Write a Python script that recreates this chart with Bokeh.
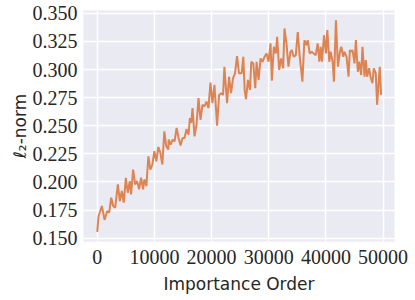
from bokeh.plotting import figure
from bokeh.models import Range1d, FixedTicker, NumeralTickFormatter
from bokeh.embed import file_html
from bokeh.resources import INLINE

# Data
order = [0, 238, 819, 1284, 1748, 2096, 2445, 2793, 3141, 3606, 3954, 4303, 4651, 5000,
         5348, 5696, 5929, 6277, 6625, 6974, 7322, 7670, 8019, 8251, 8600, 8948, 9297,
         9645, 9993, 10342, 10690, 11039, 11387, 11736, 12084, 12432,
         12490, 12838, 13187, 13535, 13884, 14232, 14580, 14929, 15277, 15626, 15974,
         16206, 16439, 16671, 17019, 17368, 17716, 18065, 18413, 18761, 19110, 19458,
         19807, 20155, 20503, 20968, 21316, 21665, 22013, 22245, 22710, 23058, 23407,
         23755, 24104, 24452, 24800, 25265,
         25556, 25787, 26020, 26369, 26717, 26949, 27297, 27646, 27877, 28225, 28574,
         28922, 29270, 29619, 29967, 30316, 30549, 30897, 31246, 31478, 31826, 32174,
         32523, 32755, 33103, 33451, 33800, 34033, 34381, 34730, 35078, 35426, 35890,
         36239, 36587, 36820, 37168, 37517, 37865, 38213, 38562,
         38851, 39085, 39317, 39665, 40014, 40246, 40594, 40827, 41176, 41407, 41756,
         42104, 42453, 42685, 43033, 43266, 43614, 43962, 44195, 44427, 44660, 45008,
         45240, 45589, 45821, 46169, 46402, 46750, 46982, 47214, 47562, 47795, 48143,
         48375, 48724, 48956, 49421, 49653]

l2_norm = [0.1556, 0.1697, 0.1786, 0.1662, 0.1742, 0.1727, 0.1860, 0.1786, 0.1771, 0.1978,
           0.1830, 0.1919, 0.1816, 0.2037, 0.1904, 0.2007, 0.1889, 0.2110, 0.1978, 0.2007,
           0.1934, 0.2037, 0.1934, 0.2022, 0.1963, 0.2228, 0.2110, 0.2155, 0.2273, 0.2184,
           0.2311, 0.2258, 0.2155, 0.2450, 0.2317, 0.2288,
           0.2376, 0.2332, 0.2376, 0.2361, 0.2480, 0.2391, 0.2323, 0.2391, 0.2391, 0.2471,
           0.2420, 0.2568, 0.2524, 0.2657, 0.2405, 0.2509, 0.2745, 0.2553, 0.2686, 0.2671,
           0.2715, 0.2657, 0.2883, 0.2701, 0.2863, 0.2500, 0.2774, 0.2789, 0.2774, 0.3025,
           0.2701, 0.2936, 0.2789, 0.2922, 0.2966, 0.3119, 0.2966, 0.2966,
           0.3113, 0.2819, 0.2736, 0.2907, 0.2819, 0.3069, 0.3055, 0.2834, 0.3069, 0.2907,
           0.3099, 0.3069, 0.3113, 0.3143, 0.3069, 0.3232, 0.2901, 0.3202, 0.3143, 0.3290,
           0.2996, 0.3099, 0.3011, 0.3365, 0.3232, 0.3025, 0.3158, 0.3173, 0.3113, 0.3128,
           0.3334, 0.3113, 0.2892, 0.3261, 0.3217, 0.3261, 0.3143, 0.3158, 0.3143, 0.3128,
           0.3232,
           0.3069, 0.3202, 0.3069, 0.3305, 0.3143, 0.3350, 0.3069, 0.3158, 0.3069, 0.2892,
           0.3438, 0.3025, 0.3158, 0.3202, 0.3113, 0.3158, 0.3113, 0.2936, 0.3173, 0.3158,
           0.3173, 0.3055, 0.3261, 0.2980, 0.3069, 0.2951, 0.3202, 0.2936, 0.3084, 0.2936,
           0.3011, 0.2936, 0.2878, 0.3011, 0.2966, 0.2686, 0.3025, 0.2774]

x_ticks = [0, 10000, 20000, 30000, 40000, 50000]
y_ticks = [0.150, 0.175, 0.200, 0.225, 0.250, 0.275, 0.300, 0.325, 0.350]

p = figure(width=413, height=298, output_backend="svg", toolbar_location=None,
           x_range=Range1d(-2400, 52000), y_range=Range1d(0.1470, 0.3525),
           min_border_left=83, min_border_right=19, min_border_top=10, min_border_bottom=57)

p.line(order, l2_norm, line_color="#dd8452", line_width=2)

p.background_fill_color = "#eaeaf2"
p.border_fill_color = "white"
p.outline_line_color = None

for g in (p.xgrid, p.ygrid):
    g.grid_line_color = "white"
    g.grid_line_width = 1.5

p.xaxis.ticker = FixedTicker(ticks=x_ticks)
p.yaxis.ticker = FixedTicker(ticks=y_ticks)
p.xaxis.formatter = NumeralTickFormatter(format="0")
p.yaxis.formatter = NumeralTickFormatter(format="0.000")

for ax in [p.xaxis[0], p.yaxis[0]]:
    ax.axis_line_color = None
    ax.major_tick_line_color = None
    ax.minor_tick_line_color = None
    ax.major_tick_out = 0
    ax.major_tick_in = 0
    ax.major_label_text_font = "serif"
    ax.major_label_text_font_size = "20px"
    ax.major_label_text_font_style = "normal"
    ax.major_label_text_color = "#262626"
    ax.axis_label_text_font = "DejaVu Sans"
    ax.axis_label_text_font_size = "17px"
    ax.axis_label_text_font_style = "normal"
    ax.axis_label_text_color = "#262626"

p.xaxis[0].axis_label = "Importance Order"
p.yaxis[0].axis_label = "ℓ₂-norm"
p.xaxis[0].major_label_standoff = 8
p.yaxis[0].major_label_standoff = 6
p.xaxis[0].axis_label_standoff = 7
p.yaxis[0].axis_label_standoff = 0

open("out.html", "w").write(file_html(p, INLINE))
